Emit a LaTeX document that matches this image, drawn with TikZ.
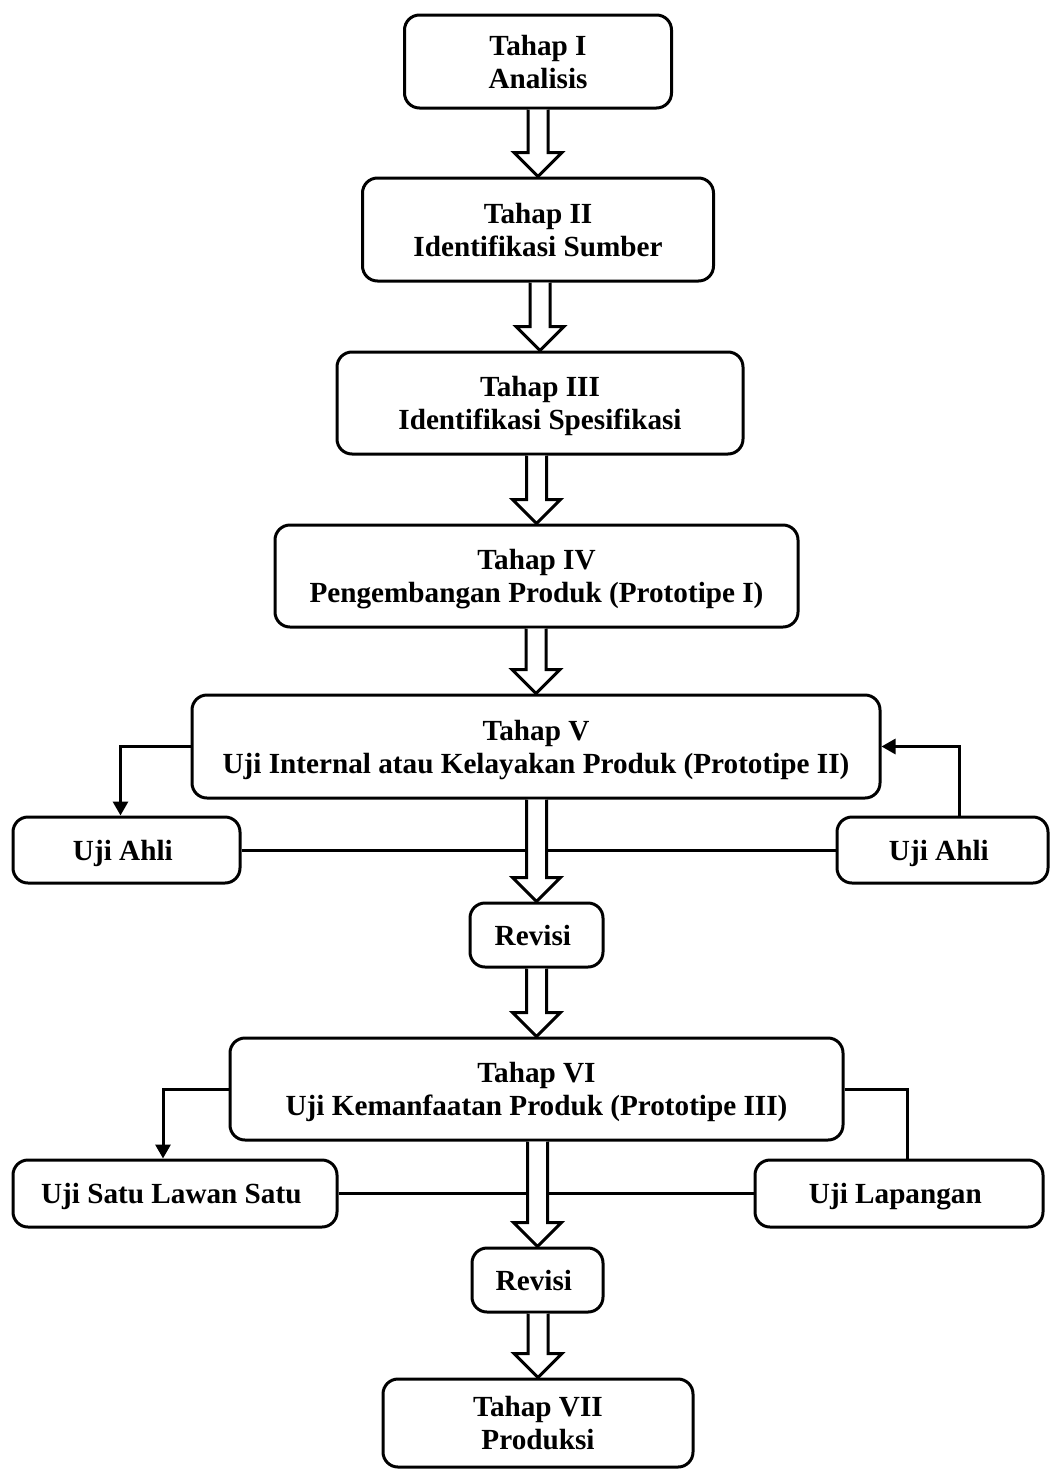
\documentclass[tikz,border=0pt]{standalone}
\usepackage{fontspec}
\setmainfont{Liberation Serif}
\usetikzlibrary{positioning,calc,arrows.meta}
\tikzstyle{tahap} = [ draw, rectangle, rounded corners = 7.5pt, line width = 1.5pt, align = center, font = \bfseries\fontsize{14.6pt}{16.5pt}\selectfont, inner sep = 0pt, text depth = 0pt ]
\tikzstyle{edge} = [ line width = 1.5pt, -{Triangle[length=7pt,width=7.5pt]} ]
\tikzstyle{link} = [ line width = 1.5pt ]
\tikzstyle{fat} = [ draw, fill = white, line width = 1.5pt, line join = miter ]
\newcommand{\fatarrow}[2]{%
	\draw[fat] ($(#1.south -| #2.north)+(-5pt,0)$) -- ($(#2.north)+(-5pt,12pt)$) -- ++(-7pt,0) -- (#2.north) -- ++(12pt,12pt) -- ++(-7pt,0) -- ($(#1.south -| #2.north)+(5pt,0)$);}

\begin{document}
\begin{tikzpicture}[x=0.5pt, y=-0.5pt]
	\useasboundingbox (0,0) rectangle (1051,1472);

	\node[tahap, minimum width=133.5pt, minimum height=46.5pt] (t1) at ( 538, 61.5 ) { Tahap I\\Analisis };
	\node[tahap, minimum width=175.5pt, minimum height=51.5pt] (t2) at ( 538, 229.5 ) { Tahap II\\Identifikasi Sumber };
	\node[tahap, minimum width=203pt, minimum height=51pt] (t3) at ( 540, 403 ) { Tahap III\\Identifikasi Spesifikasi };
	\node[tahap, minimum width=261.5pt, minimum height=51pt] (t4) at ( 536.5, 576 ) { Tahap IV\\Pengembangan Produk (Prototipe I)};
	\node[tahap, minimum width=344pt, minimum height=51.5pt] (t5) at ( 536, 746.5 ) { Tahap V\\Uji Internal atau Kelayakan Produk (Prototipe II)};
	\node[tahap, minimum width=113.5pt, minimum height=33pt] (ahli1) at ( 126.5, 850 ) { Uji Ahli };
	\node[tahap, minimum width=105.5pt, minimum height=33pt] (ahli2) at ( 942.5, 850 ) { Uji Ahli };
	\node[tahap, minimum width=66.5pt, minimum height=32pt] (rev1) at ( 536.5, 935 ) { Revisi };
	\node[tahap, minimum width=306.5pt, minimum height=51pt] (t6) at ( 536.5, 1089 ) { Tahap VI\\Uji Kemanfaatan Produk (Prototipe III)};
	\node[tahap, minimum width=162pt, minimum height=33.5pt] (satu) at ( 175, 1193.5 ) { Uji Satu Lawan Satu };
	\node[tahap, minimum width=144pt, minimum height=33.5pt] (lap) at ( 899, 1193.5 ) { Uji Lapangan };
	\node[tahap, minimum width=65.5pt, minimum height=32pt] (rev2) at ( 537.5, 1280 ) { Revisi };
	\node[tahap, minimum width=155pt, minimum height=44pt] (t7) at ( 538, 1423 ) { Tahap VII\\Produksi };

	% uji tahap V
	\draw[edge] (t5.west) -| ([xshift=-3pt]ahli1.north);
	\draw[edge] ([xshift=8.5pt]ahli2.north) |- (t5.east);
	\draw[link] (ahli1.east) -- (ahli2.west);

	% uji tahap VI
	\draw[edge] (t6.west) -| ([xshift=-6pt]satu.north);
	\draw[link] (t6.east) -| ([xshift=4pt]lap.north);
	\draw[link] (satu.east) -- (lap.west);

	\fatarrow{t1}{t2}
	\fatarrow{t2}{t3}
	\fatarrow{t3}{t4}
	\fatarrow{t4}{t5}
	\fatarrow{t5}{rev1}
	\fatarrow{rev1}{t6}
	\fatarrow{t6}{rev2}
	\fatarrow{rev2}{t7}
\end{tikzpicture}
\end{document}
